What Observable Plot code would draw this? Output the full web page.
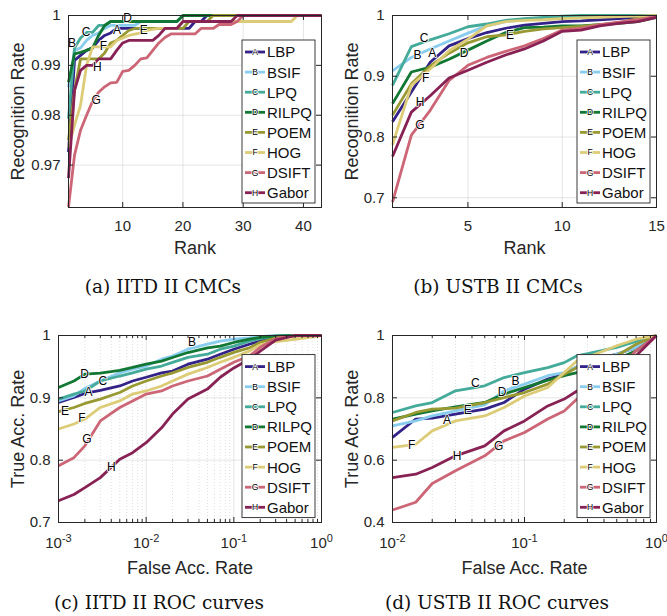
<!DOCTYPE html>
<html><head><meta charset="utf-8">
<script src="https://cdn.jsdelivr.net/npm/d3@7"></script>
<script src="https://cdn.jsdelivr.net/npm/@observablehq/plot@0.6"></script>
<style>
body{margin:0;background:#fff;}
#fig{position:relative;width:667px;height:616px;overflow:hidden;background:#fff;}
.panel{position:absolute;}
.cap{position:absolute;width:300px;text-align:center;font-family:"DejaVu Serif",serif;font-size:18.5px;line-height:20px;color:#111;white-space:nowrap;}
</style></head><body><div id="fig"></div>
<script>
const methods = ["LBP","BSIF","LPQ","RILPQ","POEM","HOG","DSIFT","Gabor"];
const letters = ["A","B","C","D","E","F","G","H"];
const colors = ["#332288","#88CCEE","#44AA99","#117733","#999933","#DDCC77","#CC6677","#882255"];

// (a) IITD II CMC: [rank, recognition rate] per method
const iitdCmc = [
 [[1,.9726],[2,.991],[3,.992],[4,.993],[5,.9935],[6,.995],[7,.996],[8,.9965],[9,.9974],[21,.9974],[22,.9988],[23,.9988],[24,1],[43,1]],
 [[1,.9856],[2,.993],[3,.9935],[4,.995],[5,.996],[6,.9965],[7,.9974],[8,.998],[12,.998],[13,.9988],[19,.9988],[20,1],[43,1]],
 [[1,.9793],[2,.9935],[3,.9955],[4,.9966],[5,.9966],[6,.998],[7,.998],[8,.9988],[19,.9988],[20,1],[43,1]],
 [[1,.9866],[2,.9923],[3,.9926],[4,.993],[5,.9935],[6,.996],[7,.998],[8,.9988],[19,.9988],[20,1],[43,1]],
 [[1,.975],[2,.985],[3,.9913],[6,.9913],[7,.9925],[8,.9945],[9,.995],[10,.996],[11,.997],[12,.9974],[20,.9974],[21,.9988],[24,.9988],[25,1],[43,1]],
 [[1,.9735],[2,.978],[3,.982],[4,.990],[5,.9937],[8,.9937],[9,.995],[10,.9955],[11,.996],[13,.9965],[14,.997],[16,.9974],[19,.9974],[20,.9988],[38,.9988],[39,1],[43,1]],
 [[1,.9616],[2,.972],[3,.977],[4,.980],[5,.9828],[6,.9846],[7,.9857],[8,.9865],[9,.9866],[10,.9888],[11,.989],[12,.990],[13,.9913],[14,.9915],[15,.993],[16,.9945],[17,.9956],[18,.9963],[22,.9963],[23,.9974],[25,.9974],[26,.9982],[28,.9982],[29,.9988],[30,1],[43,1]],
 [[1,.9674],[2,.985],[3,.989],[4,.990],[5,.990],[6,.9913],[8,.9913],[9,.993],[10,.9945],[11,.995],[15,.995],[16,.996],[17,.9974],[19,.9974],[20,.9988],[28,.9988],[29,1],[43,1]]
];
const iitdCmcLabels = [[9.07,.9971],[1.57,.9944],[3.9,.9966],[10.8,.9995],[13.5,.9971],[6.8,.9939],[5.6,.9831],[5.8,.9896]];

// (b) USTB II CMC
const ustbRanks = [1,2,3,4,5,6,7,8,9,10,11,12,13,14,15];
const ustbCmc = [
 [.825,.874,.923,.95,.962,.972,.979,.984,.987,.99,.991,.993,.995,.997,1],
 [.909,.931,.945,.958,.971,.983,.99,.993,.995,.997,.998,.999,1,1,1],
 [.885,.9487,.96,.97,.9815,.986,.992,.995,.997,.999,1,1,1,1,1],
 [.855,.907,.915,.928,.943,.958,.972,.98,.981,.983,.983,.985,.987,.99,.997],
 [.836,.8875,.917,.938,.955,.965,.968,.974,.978,.98,.982,.985,.988,.995,1],
 [.787,.885,.912,.942,.961,.983,.99,.992,.993,.995,.996,.997,.998,.999,1],
 [.693,.803,.844,.893,.918,.931,.941,.95,.962,.976,.979,.985,.989,.993,.999],
 [.768,.841,.868,.897,.91,.923,.935,.945,.958,.974,.976,.983,.987,.99,.997]
];
const ustbCmcLabels = [[3.11,.938],[2.32,.934],[2.67,.963],[4.79,.938],[7.23,.967],[2.76,.897],[2.46,.819],[2.46,.857]];

// (c) IITD II ROC
const iitdFar = [0.001,0.0015,0.002,0.003,0.005,0.007,0.01,0.015,0.02,0.03,0.05,0.07,0.1,0.15,0.2,0.3,0.5,1];
const iitdTar = [
 [.8925,.9005,.907,.912,.919,.927,.933,.94,.943,.954,.962,.97,.978,.986,.991,.998,1,1],
 [.895,.903,.915,.927,.94,.946,.951,.962,.967,.978,.986,.991,.994,.996,.998,1,1,1],
 [.898,.906,.911,.927,.935,.94,.946,.951,.957,.965,.97,.978,.983,.991,.995,.999,1,1],
 [.9166,.927,.938,.9396,.944,.9487,.954,.959,.9647,.9727,.98,.983,.9888,.994,.997,.999,1,1],
 [.878,.8845,.891,.898,.9086,.919,.927,.935,.94,.9487,.957,.965,.973,.98,.989,.996,.999,1],
 [.85,.858,.866,.8845,.895,.906,.911,.919,.927,.938,.9487,.957,.965,.975,.985,.99,.994,1],
 [.791,.804,.823,.863,.8845,.895,.906,.911,.919,.927,.935,.946,.957,.967,.981,.995,1,1],
 [.735,.745,.756,.772,.8016,.812,.828,.852,.874,.898,.914,.933,.948,.962,.975,.9925,1,1]
];
const iitdRocLabels = [[0.0022,.9086],[0.0333,.989],[0.00321,.926],[0.00198,.938],[0.00119,.879],[0.00185,.868],[0.00211,.834],[0.004,.789]];

// (d) USTB II ROC
const ustbFar = [0.01,0.015,0.02,0.03,0.05,0.07,0.1,0.15,0.2,0.25,0.3,0.5,0.7,1];
const ustbTar = [
 [.673,.732,.735,.748,.764,.785,.828,.86,.876,.9,.915,.94,.962,1],
 [.71,.726,.742,.758,.7775,.8225,.844,.871,.881,.9,.912,.94,.962,1],
 [.753,.774,.785,.8225,.8385,.865,.881,.897,.913,.935,.942,.962,.981,1],
 [.7315,.7476,.758,.771,.785,.812,.833,.857,.871,.881,.897,.924,.951,1],
 [.726,.753,.764,.767,.785,.801,.817,.844,.876,.897,.905,.935,.972,1],
 [.641,.651,.694,.726,.742,.769,.806,.833,.881,.919,.93,.967,.988,1],
 [.44,.465,.525,.566,.614,.662,.689,.732,.758,.796,.8,.887,.951,1],
 [.544,.555,.5765,.614,.646,.694,.726,.774,.796,.822,.835,.887,.935,1]
];
const ustbRocLabels = [[0.0259,.728],[0.0855,.8545],[0.0425,.846],[0.0677,.819],[0.0371,.7615],[0.014,.649],[0.0638,.646],[0.0308,.612]];

const captions = ["(a) IITD II CMCs","(b) USTB II CMCs","(c) IITD II ROC curves","(d) USTB II ROC curves"];

const FONT = "Liberation Sans, Arial, Helvetica, sans-serif";
const TXT = "#262626";

function rowsFromPairs(arr){ return arr.flatMap((s,i)=>s.map(([x,y])=>({m:methods[i],x,y}))); }
function rowsFromXY(xs, arr){ return arr.flatMap((s,i)=>s.map((y,j)=>({m:methods[i],x:xs[j],y}))); }
function labelRows(arr){ return arr.map(([x,y],i)=>({x,y,t:letters[i]})); }
function minorLog(lo, hi){ const out=[]; for(let e=lo;e<hi;e++) for(let k=2;k<=9;k++) out.push(k*Math.pow(10,e)); return out; }

const fig = document.getElementById("fig");

function panel(o){
  const pw = o.width - o.ml - o.mr, ph = o.height - o.mt - o.mb;
  const minor = o.minor || [];
  const isLog = o.xType === "log";
  const svg = Plot.plot({
    width:o.width, height:o.height,
    marginLeft:o.ml, marginRight:o.mr, marginTop:o.mt, marginBottom:o.mb,
    style:{fontFamily:FONT, fontSize:"15px", color:TXT, background:"#fff", overflow:"hidden"},
    x:{type:o.xType||"linear", domain:o.xDomain},
    y:{domain:o.yDomain},
    color:{domain:methods, range:colors},
    marks:[
      Plot.gridX(minor, {x:d=>d, stroke:"#000", strokeOpacity:0.13, strokeDasharray:"1,2"}),
      Plot.gridX(o.xTicks, {x:d=>d, stroke:"#000", strokeOpacity:0.1}),
      Plot.gridY(o.yTicks, {y:d=>d, stroke:"#000", strokeOpacity:0.1}),
      Plot.line(o.rows, {x:"x", y:"y", z:"m", stroke:"m", strokeWidth:2.8, strokeLinejoin:"miter", strokeLinecap:"butt"}),
      Plot.text(o.labels, {x:"x", y:"y", text:"t", fontSize:12, fill:"#000", stroke:"#fff", strokeWidth:1.5, paintOrder:"stroke", fontFamily:FONT}),
      Plot.frame({stroke:TXT, strokeWidth:1}),
      Plot.tickX(o.xTicks, {x:d=>d, insetTop:ph-5, stroke:TXT}),
      Plot.tickX(o.xTicks, {x:d=>d, insetBottom:ph-5, stroke:TXT}),
      Plot.tickX(minor, {x:d=>d, insetTop:ph-3, stroke:TXT}),
      Plot.tickX(minor, {x:d=>d, insetBottom:ph-3, stroke:TXT}),
      Plot.tickY(o.yTicks, {y:d=>d, insetRight:pw-5, stroke:TXT}),
      Plot.tickY(o.yTicks, {y:d=>d, insetLeft:pw-5, stroke:TXT}),
      Plot.axisX(o.xTicks, {anchor:"bottom", tickSize:0, tickPadding:o.xPad, fontSize:15, label:null,
        tickFormat: isLog ? (d=>"10^"+Math.round(Math.log10(d))) : (d=>String(d))}),
      Plot.axisY(o.yTicks, {anchor:"left", tickSize:0, tickPadding:8, fontSize:15, label:null, tickFormat:d=>String(d)}),
      Plot.text([o.xLabel], {frameAnchor:"bottom", textAnchor:"middle", lineAnchor:"middle", dy:o.xLabelDy, fontSize:18, text:d=>d, fill:TXT, fontFamily:FONT}),
      Plot.text([o.yLabel], {frameAnchor:"left", textAnchor:"middle", lineAnchor:"middle", dx:o.yLabelDx, rotate:-90, fontSize:18, text:d=>d, fill:TXT, fontFamily:FONT})
    ]
  });
  // superscript exponents on log axis
  if (isLog) {
    d3.select(svg).selectAll('g[aria-label="x-axis tick label"] text').each(function(){
      const t = this.textContent;
      if (t.startsWith("10^")) {
        const e = t.slice(3);
        this.textContent = "10";
        d3.select(this).append("tspan").attr("dy","-0.55em").attr("font-size","11px").text(e);
      }
    });
  }
  // legend box inside plot area
  const bw = 73, bh = 163;
  const bx = o.width - o.mr - 6 - bw, by = o.mt + o.legTop;
  const g = d3.select(svg).append("g").attr("font-family", FONT).attr("text-anchor","start");
  g.append("rect").attr("x",bx).attr("y",by).attr("width",bw).attr("height",bh)
    .attr("fill","#fff").attr("stroke",TXT).attr("stroke-width",0.9);
  methods.forEach((m,i)=>{
    const yy = by + 12 + i*20.1;
    g.append("line").attr("x1",bx+3).attr("x2",bx+23).attr("y1",yy).attr("y2",yy)
      .attr("stroke",colors[i]).attr("stroke-width",2.8);
    g.append("text").attr("x",bx+13).attr("y",yy).attr("dy","0.35em").attr("text-anchor","middle")
      .attr("font-size",8.5).attr("fill","#000").attr("stroke","#fff").attr("stroke-width",1.5)
      .attr("paint-order","stroke").text(letters[i]);
    g.append("text").attr("x",bx+25).attr("y",yy).attr("dy","0.36em").attr("text-anchor","start")
      .attr("font-size",15).attr("fill","#111").text(m);
  });
  const wrap = document.createElement("div");
  wrap.className = "panel";
  wrap.style.left = o.left+"px"; wrap.style.top = o.top+"px";
  wrap.style.width = o.width+"px"; wrap.style.height = o.height+"px";
  wrap.appendChild(svg);
  fig.appendChild(wrap);
}

panel({left:0, top:0, width:334, height:270, ml:68, mr:13, mt:15, mb:63,
  xDomain:[1,43], yDomain:[0.9615,1], xTicks:[10,20,30,40], yTicks:[0.97,0.98,0.99,1], xPad:13,
  rows:rowsFromPairs(iitdCmc), labels:labelRows(iitdCmcLabels),
  xLabel:"Rank", yLabel:"Recognition Rate", xLabelDy:41, yLabelDx:-50.5, legTop:25});

panel({left:334, top:0, width:333, height:270, ml:58, mr:11, mt:15, mb:63,
  xDomain:[1,15], yDomain:[0.684,1], xTicks:[5,10,15], yTicks:[0.7,0.8,0.9,1], xPad:13,
  rows:rowsFromXY(ustbRanks, ustbCmc), labels:labelRows(ustbCmcLabels),
  xLabel:"Rank", yLabel:"Recognition Rate", xLabelDy:41, yLabelDx:-40.5, legTop:25});

panel({left:0, top:320, width:334, height:270, ml:58, mr:13, mt:15, mb:68, xType:"log",
  xDomain:[0.001,1], yDomain:[0.7,1], xTicks:[0.001,0.01,0.1,1], yTicks:[0.7,0.8,0.9,1], xPad:15,
  minor:minorLog(-3,0),
  rows:rowsFromXY(iitdFar, iitdTar), labels:labelRows(iitdRocLabels),
  xLabel:"False Acc. Rate", yLabel:"True Acc. Rate", xLabelDy:46, yLabelDx:-40.5, legTop:19.6});

panel({left:334, top:320, width:333, height:270, ml:58, mr:11, mt:15, mb:68, xType:"log",
  xDomain:[0.01,1], yDomain:[0.4,1], xTicks:[0.01,0.1,1], yTicks:[0.4,0.6,0.8,1], xPad:15,
  minor:minorLog(-2,0),
  rows:rowsFromXY(ustbFar, ustbTar), labels:labelRows(ustbRocLabels),
  xLabel:"False Acc. Rate", yLabel:"True Acc. Rate", xLabelDy:46, yLabelDx:-40.5, legTop:19.6});

const capCenters = [[163,287],[498,287],[159,603],[497,603]];
captions.forEach((c,i)=>{
  const d = document.createElement("div");
  d.className = "cap";
  d.style.left = (capCenters[i][0]-150)+"px";
  d.style.top = (capCenters[i][1]-10)+"px";
  d.textContent = c;
  fig.appendChild(d);
});
</script></body></html>
